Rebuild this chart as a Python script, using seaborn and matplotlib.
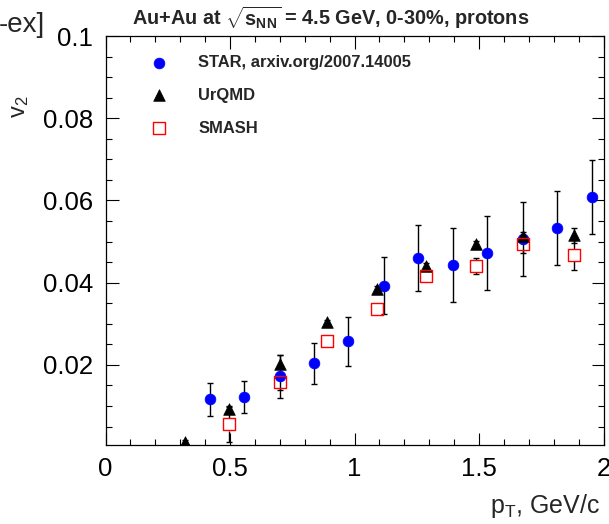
import matplotlib
matplotlib.use("Agg")
import matplotlib.pyplot as plt
from matplotlib.ticker import MultipleLocator, FixedLocator, FixedFormatter
import seaborn as sns
import pandas as pd
import numpy as np

# STAR measurement
star_pt = [0.42, 0.556, 0.701, 0.837, 0.974, 1.118, 1.256, 1.397, 1.531, 1.678, 1.815, 1.955]
star_v2 = [0.0116, 0.0121, 0.0172, 0.0204, 0.0257, 0.0393, 0.0460, 0.0444, 0.0472, 0.0507, 0.0533, 0.0608]
star_err = [0.0040, 0.0039, 0.0052, 0.0050, 0.0059, 0.0070, 0.0081, 0.0090, 0.0089, 0.0090, 0.0091, 0.0090]

# UrQMD model
urqmd_pt = [0.319, 0.497, 0.701, 0.89, 1.089, 1.287, 1.488, 1.678, 1.883]
urqmd_v2 = [0.0013, 0.0093, 0.0202, 0.0305, 0.0385, 0.0440, 0.0493, 0.0513, 0.0515]
urqmd_err = [0.0005, 0.0008, 0.0022, 0.0005, 0.0008, 0.0008, 0.0008, 0.0010, 0.0019]

# SMASH model
smash_pt = [0.497, 0.701, 0.89, 1.092, 1.287, 1.488, 1.678, 1.883]
smash_v2 = [0.0055, 0.0158, 0.0258, 0.0336, 0.0415, 0.0440, 0.0495, 0.0468]
smash_err = [0.0042, 0.0020, 0.0005, 0.0005, 0.0005, 0.0019, 0.0022, 0.0038]

x_ticks = [0, 0.5, 1, 1.5, 2]
x_tick_labels = ["0", "0.5", "1", "1.5", "2"]
y_ticks = [0.02, 0.04, 0.06, 0.08, 0.1]
y_tick_labels = ["0.02", "0.04", "0.06", "0.08", "0.1"]

sns.set_style("ticks")
plt.rcParams["font.family"] = ["Liberation Sans", "DejaVu Sans"]
plt.rcParams["mathtext.fontset"] = "custom"
plt.rcParams["mathtext.rm"] = "Liberation Sans"
plt.rcParams["mathtext.it"] = "Liberation Sans:italic"
plt.rcParams["mathtext.bf"] = "Liberation Sans:bold"
plt.rcParams["mathtext.default"] = "regular"

W, H = 609, 524
fig = plt.figure(figsize=(W / 100, H / 100), dpi=100)
x0, x1, y0, y1 = 105.5, 603.5, 36, 445
ax = fig.add_axes([x0 / W, 1 - y1 / H, (x1 - x0) / W, (y1 - y0) / H])

star = pd.DataFrame({"pt": star_pt, "v2": star_v2})
urqmd = pd.DataFrame({"pt": urqmd_pt, "v2": urqmd_v2})
smash = pd.DataFrame({"pt": smash_pt, "v2": smash_v2})

err_kw = dict(fmt="none", ecolor="black", elinewidth=1.0, capsize=2.5, capthick=1.0)
ax.errorbar(star_pt, star_v2, yerr=star_err, zorder=2, **err_kw)
ax.errorbar(urqmd_pt, urqmd_v2, yerr=urqmd_err, zorder=2, **err_kw)

# open squares: error bars stop at the marker edge, leaving the inside empty
gap = 0.0015
cap = 0.012
spt, sv, se = np.array(smash_pt), np.array(smash_v2), np.array(smash_err)
m = se > gap
ax.vlines(spt[m], sv[m] - se[m], sv[m] - gap, color="black", lw=1.0, zorder=2)
ax.vlines(spt[m], sv[m] + gap, sv[m] + se[m], color="black", lw=1.0, zorder=2)
ax.hlines(sv[m] - se[m], spt[m] - cap, spt[m] + cap, color="black", lw=1.0, zorder=2)
ax.hlines(sv[m] + se[m], spt[m] - cap, spt[m] + cap, color="black", lw=1.0, zorder=2)

sns.scatterplot(data=star, x="pt", y="v2", ax=ax, marker="o", s=60,
                color="#0000ff", edgecolor="#0000ff", linewidth=0.5,
                label="STAR, arxiv.org/2007.14005", zorder=3)
sns.scatterplot(data=urqmd, x="pt", y="v2", ax=ax, marker="^", s=70,
                color="black", edgecolor="black", linewidth=0.5,
                label="UrQMD", zorder=4)
sns.scatterplot(data=smash, x="pt", y="v2", ax=ax, marker="s", s=75,
                facecolor="none", edgecolor="#ff0000", linewidth=1.0,
                label="SMASH", zorder=5)

ax.set_xlim(0, 2)
ax.set_ylim(0.0005, 0.1)
ax.set_xlabel("")
ax.set_ylabel("")

ax.xaxis.set_major_locator(FixedLocator(x_ticks))
ax.xaxis.set_major_formatter(FixedFormatter(x_tick_labels))
ax.xaxis.set_minor_locator(MultipleLocator(0.1))
ax.yaxis.set_major_locator(FixedLocator(y_ticks))
ax.yaxis.set_major_formatter(FixedFormatter(y_tick_labels))
ax.yaxis.set_minor_locator(MultipleLocator(0.005))

ax.tick_params(which="both", direction="in", top=True, right=True,
               width=0.8, colors="black")
ax.tick_params(which="major", length=9, labelsize=18.5, pad=9)
ax.tick_params(which="minor", length=4.5)
for s in ax.spines.values():
    s.set_linewidth(0.9)
    s.set_color("black")

leg = ax.legend(loc="upper left", bbox_to_anchor=(0.055, 0.99), frameon=False,
                prop={"weight": "bold", "size": 11.9}, handlelength=1.4,
                handletextpad=1.66, labelspacing=1.08, borderpad=0.4)

fig.text(331 / W, 1 - 18 / H,
         r"Au+Au at $\sqrt{\mathbf{s}_{\mathbf{NN}}}$ = 4.5 GeV, 0-30%, protons",
         ha="center", va="center", fontsize=14.3, fontweight="bold")
fig.text(-0.002, 1 - 32 / H, "-ex]", ha="left", va="baseline", fontsize=20)
fig.text(20 / W, 1 - 96 / H, "v$_2$", rotation=90, ha="center", va="top",
         fontsize=17)
fig.text(600 / W, 1 - 506 / H, "p$_T$, GeV/c", ha="right", va="center",
         fontsize=18)

fig.savefig("out.png", dpi=100)
